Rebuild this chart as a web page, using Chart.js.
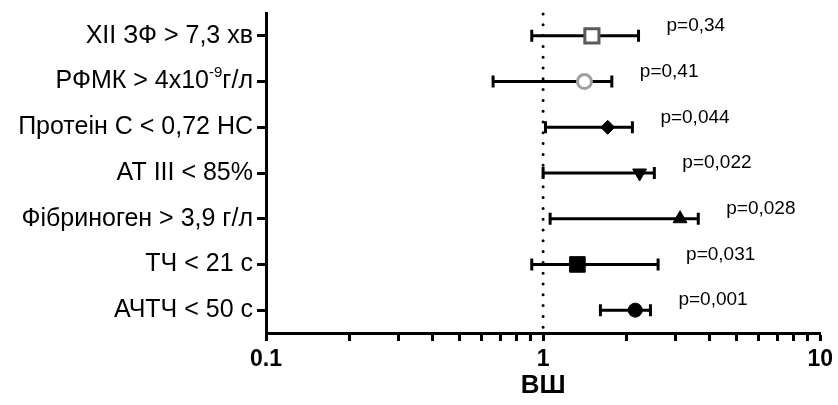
<!DOCTYPE html>
<html>
<head>
<meta charset="utf-8">
<title>ВШ</title>
<script src="https://cdn.jsdelivr.net/npm/chart.js@4"></script>
<style>
  html, body { margin: 0; padding: 0; background: #fff; }
</style>
</head>
<body>
<canvas id="forest" width="838" height="405"></canvas>
<script>
// рядки зверху вниз
const categories = ['XII ЗФ > 7,3 хв', 'РФМК > 4x10\u207B\u2079г/л', 'Протеін С < 0,72 НС', 'AT III < 85%', 'Фібриноген > 3,9 г/л', 'ТЧ < 21 с', 'АЧТЧ < 50 с'];
const oddsRatio = [1.50, 1.41, 1.71, 2.23, 3.12, 1.33, 2.15];
const ciLow = [0.91, 0.66, 1.02, 1.00, 1.06, 0.91, 1.61];
const ciHigh = [2.21, 1.77, 2.10, 2.52, 3.63, 2.60, 2.44];
const pValues = ['p=0,34', 'p=0,41', 'p=0,044', 'p=0,022', 'p=0,028', 'p=0,031', 'p=0,001'];
const xMajorTicks = [0.1, 1, 10];
const xTickValues = [0.1, 0.2, 0.3, 0.4, 0.5, 0.6, 0.7, 0.8, 0.9, 1, 2, 3, 4, 5, 6, 7, 8, 9, 10];

const FONT = "'Liberation Sans', Arial, sans-serif";
const SUP = { '\u207B': '-', '\u2070': '0', '\u00B9': '1', '\u00B2': '2', '\u00B3': '3', '\u2074': '4', '\u2075': '5', '\u2076': '6', '\u2077': '7', '\u2078': '8', '\u2079': '9' };

// розбиває підпис на звичайні та верхні індекси
function splitRuns(text) {
    const runs = [];
    for (const ch of text) {
        const sup = ch in SUP;
        const last = runs[runs.length - 1];
        if (last && last.sup === sup) last.text += sup ? SUP[ch] : ch;
        else runs.push({ sup, text: sup ? SUP[ch] : ch });
    }
    return runs;
}

// довірчі інтервали, лінія ВШ = 1, підписи рядків і p
const forestMarks = {
    id: 'forestMarks',
    beforeDatasetsDraw(chart) {
        const { ctx, chartArea, scales: { x, y } } = chart;
        ctx.save();
        ctx.strokeStyle = '#000';
        ctx.lineWidth = 3;

        const x1 = x.getPixelForValue(1);
        ctx.lineCap = 'round';
        ctx.setLineDash([0, 10.8]);
        ctx.beginPath();
        ctx.moveTo(x1, chartArea.top + 1);
        ctx.lineTo(x1, chartArea.bottom - 3);
        ctx.stroke();
        ctx.setLineDash([]);
        ctx.lineCap = 'butt';

        categories.forEach((c, i) => {
            const yp = y.getPixelForValue(i);
            const lo = x.getPixelForValue(ciLow[i]);
            const hi = x.getPixelForValue(ciHigh[i]);
            ctx.beginPath();
            ctx.moveTo(lo, yp);
            ctx.lineTo(hi, yp);
            ctx.moveTo(lo, yp - 6);
            ctx.lineTo(lo, yp + 6);
            ctx.moveTo(hi, yp - 6);
            ctx.lineTo(hi, yp + 6);
            ctx.stroke();
        });
        ctx.restore();
    },
    afterDatasetsDraw(chart) {
        const { ctx, chartArea, scales: { x, y } } = chart;
        ctx.save();
        ctx.fillStyle = '#000';
        ctx.textAlign = 'left';
        ctx.textBaseline = 'middle';

        ctx.font = '19px ' + FONT;
        pValues.forEach((p, i) => {
            ctx.fillText(p, x.getPixelForValue(ciHigh[i]) + 28, y.getPixelForValue(i) - 10);
        });

        const mainFont = '25px ' + FONT;
        const supFont = '15px ' + FONT;
        const right = chartArea.left - 13;
        categories.forEach((c, i) => {
            const yp = y.getPixelForValue(i);
            const runs = splitRuns(c);
            let total = 0;
            runs.forEach(r => {
                ctx.font = r.sup ? supFont : mainFont;
                r.w = ctx.measureText(r.text).width;
                total += r.w;
            });
            let cx = right - total;
            runs.forEach(r => {
                ctx.font = r.sup ? supFont : mainFont;
                ctx.fillText(r.text, cx, r.sup ? yp - 9 : yp);
                cx += r.w;
            });
        });
        ctx.restore();
    }
};

new Chart(document.getElementById('forest'), {
    type: 'scatter',
    data: {
        datasets: [{
            data: oddsRatio.map((v, i) => ({ x: v, y: i })),
            pointStyle: ['rect', 'circle', 'rectRot', 'triangle', 'triangle', 'rect', 'circle'],
            pointRotation: [0, 0, 0, 180, 0, 0, 0],
            pointRadius: [10, 7, 7, 8, 8, 11, 7],
            pointBackgroundColor: ['#fff', '#fff', '#000', '#000', '#000', '#000', '#000'],
            pointBorderColor: ['#5a5a5a', '#a0a0a0', '#000', '#000', '#000', '#000', '#000'],
            pointBorderWidth: [3, 3, 1, 1, 1, 1, 1]
        }]
    },
    options: {
        responsive: false,
        animation: false,
        events: [],
        layout: { padding: { top: 11, right: 15, bottom: 0, left: 0 } },
        plugins: {
            legend: { display: false },
            tooltip: { enabled: false }
        },
        scales: {
            x: {
                type: 'logarithmic',
                min: 0.1,
                max: 10,
                afterBuildTicks: axis => {
                    axis.ticks = xTickValues.map(v => ({ value: v, major: xMajorTicks.includes(v) }));
                },
                afterFit: axis => { axis.height = 72; },
                ticks: {
                    autoSkip: false,
                    maxRotation: 0,
                    padding: 5,
                    color: '#000',
                    font: { family: FONT, size: 23, weight: 'bold' },
                    callback: v => xMajorTicks.includes(v) ? String(v) : ''
                },
                grid: { drawOnChartArea: false, drawTicks: true, tickLength: 8, tickWidth: 3, tickColor: '#000' },
                border: { color: '#000', width: 3 },
                title: {
                    display: true,
                    text: 'ВШ',
                    color: '#000',
                    font: { family: FONT, size: 26, weight: 'bold' },
                    padding: { top: 0, bottom: 4 }
                }
            },
            y: {
                type: 'linear',
                reverse: true,
                min: -0.5,
                max: 6.5,
                afterBuildTicks: axis => {
                    axis.ticks = categories.map((c, i) => ({ value: i }));
                },
                afterFit: axis => { axis.width = 266; },
                ticks: {
                    autoSkip: false,
                    padding: 4,
                    // підписи малює forestMarks, щоб показати верхній індекс
                    callback: () => ''
                },
                grid: { drawOnChartArea: false, drawTicks: true, tickLength: 9, tickWidth: 3, tickColor: '#000' },
                border: { color: '#000', width: 3 }
            }
        }
    },
    plugins: [forestMarks]
});
</script>
</body>
</html>
